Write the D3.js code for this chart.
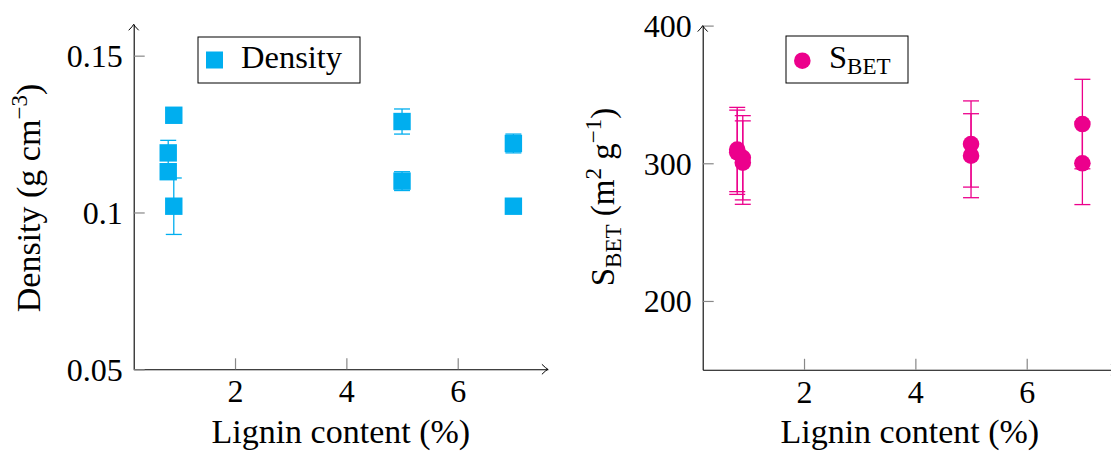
<!DOCTYPE html>
<html><head><meta charset="utf-8">
<script src="https://cdn.jsdelivr.net/npm/d3@7"></script>
<style>
html,body{margin:0;padding:0;background:#fff;}
svg{display:block;font-family:"Liberation Serif","Times New Roman",serif;}
</style></head>
<body>
<svg id="c" width="1111" height="451"></svg>
<script>
// ---- data ----
const lignin      = [0.8, 0.8, 0.9, 0.9, 5, 5, 7, 7];
const density     = [0.119, 0.113, 0.131, 0.102, 0.129, 0.110, 0.122, 0.102];
const densityErr  = [0.004, 0.002, 0.002, 0.009, 0.004, 0.003, 0.003, 0.002];
const sbetX       = [0.8, 0.8, 0.9, 0.9, 5, 5, 7, 7];
const sbet        = [310, 308, 304, 300.5, 314, 305.5, 328.5, 300];
const sbetErr     = [30.6, 30.6, 30.6, 30.3, 31.3, 30.5, 32.5, 30];
const xTicks      = [2, 4, 6];
const densityTicks = [0.05, 0.1, 0.15];
const densityTickLabels = ["0.05", "0.1", "0.15"];
const sbetTicks   = [200, 300, 400];
const xLabel = "Lignin content (%)";

const CYAN = "#00AEEF", MAGENTA = "#EC008C";
const svg = d3.select("#c");

function arrowHead(g, x, y, dir){
  let p;
  if(dir === "right") p = `M${x-6},${y-5} Q${x-2},${y-1} ${x},${y} Q${x-2},${y+1} ${x-6},${y+5}`;
  else p = `M${x-5},${y+6} Q${x-1},${y+2} ${x},${y} Q${x+1},${y+2} ${x+5},${y+6}`;
  g.append("path").attr("d", p).attr("fill","none").attr("stroke","#000").attr("stroke-width",1);
}

function panel(opts){
  const g = svg.append("g");
  const x = d3.scaleLinear().domain([0.18, 7.62]).range(opts.xr);
  const y = d3.scaleLinear().domain(opts.yd).range(opts.yr);
  const x0 = opts.xr[0], yb = opts.yr[0];

  const xa = g.append("g").attr("transform", `translate(0,${yb})`)
    .call(d3.axisBottom(x).tickValues(xTicks).tickSize(-11).tickSizeOuter(0).tickPadding(13));
  xa.select(".domain").attr("stroke","#000").attr("stroke-width",1.1);
  xa.selectAll(".tick line").attr("stroke","#888").attr("stroke-width",1.2);
  xa.selectAll(".tick text").attr("font-size",32).attr("fill","#000")
    .attr("font-family","Liberation Serif").attr("dy","0.62em");
  arrowHead(g, opts.xr[1], yb, "right");

  const ya = g.append("g").attr("transform", `translate(${x0},0)`)
    .call(d3.axisLeft(y).tickValues(opts.yTicks).tickFormat((d,i)=>opts.yLabels[i])
      .tickSize(-11).tickSizeOuter(0).tickPadding(11));
  ya.select(".domain").attr("stroke","#000").attr("stroke-width",1.1);
  ya.selectAll(".tick line").attr("stroke","#888").attr("stroke-width",1.2);
  ya.selectAll(".tick text").attr("font-size",32).attr("fill","#000")
    .attr("font-family","Liberation Serif").attr("dy","0.34em");
  arrowHead(g, x0, opts.yr[1], "up");

  g.append("text").attr("x", (opts.xr[0]+opts.xr[1])/2).attr("y", 443)
    .attr("text-anchor","middle").attr("font-size",34).text(xLabel);

  const eb = g.append("g").attr("stroke", opts.color).attr("stroke-width",1.3).attr("fill","none");
  opts.xs.forEach((xv,i)=>{
    const cx = x(xv), t = y(opts.ys[i]+opts.err[i]), b = y(opts.ys[i]-opts.err[i]);
    eb.append("line").attr("x1",cx).attr("x2",cx).attr("y1",t).attr("y2",b);
    eb.append("line").attr("x1",cx-8).attr("x2",cx+8).attr("y1",t).attr("y2",t);
    eb.append("line").attr("x1",cx-8).attr("x2",cx+8).attr("y1",b).attr("y2",b);
  });
  const mk = g.append("g").attr("fill", opts.color);
  opts.xs.forEach((xv,i)=>{
    const cx = x(xv), cy = y(opts.ys[i]);
    if(opts.marker === "square")
      mk.append("rect").attr("x",cx-8.7).attr("y",cy-8.7).attr("width",17.4).attr("height",17.4);
    else
      mk.append("circle").attr("cx",cx).attr("cy",cy).attr("r",8.3);
  });
  return g;
}

panel({xr:[133.7, 547.9], yd:[0.05,0.16], yr:[369.3, 24.3],
  yTicks: densityTicks, yLabels: densityTickLabels,
  xs: lignin, ys: density, err: densityErr, color: CYAN, marker:"square"});
panel({xr:[702.7, 1116.9], yd:[150,400], yr:[369.8, 25.6],
  yTicks: sbetTicks, yLabels: sbetTicks.map(String),
  xs: sbetX, ys: sbet, err: sbetErr, color: MAGENTA, marker:"circle"});

const yl = svg.append("text").attr("transform","translate(40,198) rotate(-90)")
  .attr("text-anchor","middle").attr("font-size",34);
yl.append("tspan").text("Density (g cm");
yl.append("tspan").attr("dy",-13).attr("font-size",23).text("\u22123");
yl.append("tspan").attr("dy",13).text(")");

const yr = svg.append("text").attr("transform","translate(614,197) rotate(-90)")
  .attr("text-anchor","middle").attr("font-size",33);
yr.append("tspan").text("S");
yr.append("tspan").attr("dy",7).attr("font-size",23).text("BET");
yr.append("tspan").attr("dy",-7).text(" (m");
yr.append("tspan").attr("dy",-13).attr("font-size",23).text("2");
yr.append("tspan").attr("dy",13).text(" g");
yr.append("tspan").attr("dy",-13).attr("font-size",23).text("\u22121");
yr.append("tspan").attr("dy",13).text(")");

const lg1 = svg.append("g");
lg1.append("rect").attr("x",198).attr("y",37).attr("width",162).attr("height",46)
  .attr("fill","#fff").attr("stroke","#000").attr("stroke-width",1);
lg1.append("rect").attr("x",206).attr("y",51.5).attr("width",17).attr("height",17).attr("fill",CYAN);
lg1.append("text").attr("x",241).attr("y",68).attr("font-size",32.5).text("Density");

const lg2 = svg.append("g");
lg2.append("rect").attr("x",786).attr("y",36).attr("width",122).attr("height",47)
  .attr("fill","#fff").attr("stroke","#000").attr("stroke-width",1);
lg2.append("circle").attr("cx",802.3).attr("cy",60.7).attr("r",8.3).attr("fill",MAGENTA);
const lt = lg2.append("text").attr("x",829).attr("y",67.5).attr("font-size",32.5);
lt.append("tspan").text("S");
lt.append("tspan").attr("dy",6).attr("font-size",23).text("BET");
</script>
</body></html>
